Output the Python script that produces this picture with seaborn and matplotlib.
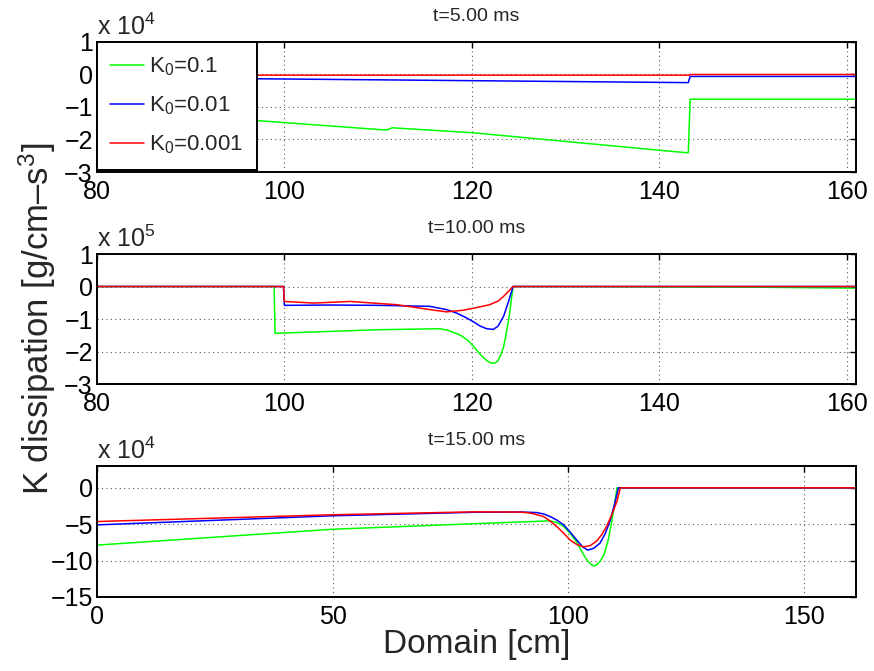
import matplotlib
matplotlib.use("Agg")
import matplotlib.pyplot as plt
import numpy as np
import pandas as pd
import seaborn as sns

# ─── Data ────────────────────────────────────────────────────────────────────

SERIES_LABELS = [r"K$_0$=0.1", r"K$_0$=0.01", r"K$_0$=0.001"]
SERIES_COLORS = ["#00ff00", "#0000ff", "#ff0000"]

# t = 5 ms  (values x 1e4)
T5_X_GREEN = [80, 96.7, 110.4, 111.0, 111.5, 120, 130, 140, 143.1, 143.3, 161]
T5_Y_GREEN = [-1.05, -1.41, -1.70, -1.70, -1.64, -1.79, -2.06, -2.33, -2.41, -0.76, -0.76]
T5_X_BLUE = [80, 96.7, 120, 143.1, 143.3, 161]
T5_Y_BLUE = [-0.10, -0.13, -0.19, -0.25, -0.06, -0.06]
T5_X_RED = [80, 143.2, 143.3, 161]
T5_Y_RED = [-0.02, -0.02, 0.0, 0.0]

# t = 10 ms  (values x 1e5)
T10_X_GREEN = [80, 98.9, 99.0, 100, 105, 110, 116.6, 117.5, 118.8, 119.6, 120.2, 120.7, 121.2,
               121.7, 122.1, 122.5, 122.8, 123.1, 123.4, 123.7, 124.0, 124.4, 150, 161]
T10_Y_GREEN = [0, 0, -1.44, -1.43, -1.38, -1.33, -1.30, -1.35, -1.50, -1.66, -1.85, -2.02, -2.18,
               -2.30, -2.36, -2.35, -2.28, -2.10, -1.85, -1.40, -0.90, 0, -0.02, -0.05]
T10_X_BLUE = [80, 99.9, 100.0, 105, 110, 115.5, 117.3, 118.4, 119.4, 120.2, 120.9, 121.6,
              122.3, 122.8, 123.4, 123.9, 124.4, 161]
T10_Y_BLUE = [0, 0, -0.58, -0.57, -0.58, -0.61, -0.71, -0.82, -0.96, -1.09, -1.22, -1.30,
              -1.32, -1.22, -0.91, -0.48, 0, 0]
T10_X_RED = [80, 99.9, 100.0, 103.1, 107.0, 112.0, 115.5, 117.3, 119.1, 120.5, 121.9, 122.8,
             123.4, 123.9, 124.4, 161]
T10_Y_RED = [0, 0, -0.46, -0.51, -0.46, -0.56, -0.71, -0.78, -0.73, -0.65, -0.56, -0.45,
             -0.30, -0.15, 0, 0]

# t = 15 ms  (values x 1e4)
T15_X_GREEN = [0, 50, 79.1, 96.1, 97.5, 99.0, 100.4, 101.8, 102.7, 103.5, 104.4, 105.3, 106.0,
               106.7, 107.5, 108.4, 109.2, 109.8, 110.3, 161]
T15_Y_GREEN = [-7.87, -5.69, -4.95, -4.54, -4.75, -5.30, -6.30, -7.50, -8.60, -9.50, -10.3,
               -10.74, -10.6, -10.1, -9.26, -7.30, -4.60, -2.2, 0, 0]
T15_X_BLUE = [0, 50, 80, 90, 93.3, 94.8, 96.1, 97.6, 99.0, 100.4, 101.8, 103.0, 104.1, 105.4,
              106.7, 107.8, 108.8, 109.8, 110.6, 161]
T15_Y_BLUE = [-5.09, -3.84, -3.36, -3.32, -3.40, -3.60, -3.94, -4.45, -5.10, -6.10, -7.20,
              -8.10, -8.56, -8.30, -7.60, -6.30, -4.60, -2.2, 0, 0]
T15_X_RED = [0, 50, 80, 89.7, 91.2, 92.5, 94.7, 96.1, 97.5, 99.0, 100.4, 101.8, 103.2, 104.6,
             106.0, 107.1, 108.1, 109.2, 110.3, 111.0, 161]
T15_Y_RED = [-4.63, -3.70, -3.30, -3.33, -3.42, -3.55, -3.94, -4.55, -5.30, -6.25, -7.20, -7.80,
             -8.10, -7.95, -7.30, -6.40, -5.30, -3.70, -1.85, 0, 0]

PANELS = [
    ("t=5.00 ms", "4", (80, 161), [80, 100, 120, 140, 160], (-3, 1), [-3, -2, -1, 0, 1],
     [(T5_X_GREEN, T5_Y_GREEN), (T5_X_BLUE, T5_Y_BLUE), (T5_X_RED, T5_Y_RED)]),
    ("t=10.00 ms", "5", (80, 161), [80, 100, 120, 140, 160], (-3, 1), [-3, -2, -1, 0, 1],
     [(T10_X_GREEN, T10_Y_GREEN), (T10_X_BLUE, T10_Y_BLUE), (T10_X_RED, T10_Y_RED)]),
    ("t=15.00 ms", "4", (0, 161), [0, 50, 100, 150], (-15, 3), [-15, -10, -5, 0],
     [(T15_X_GREEN, T15_Y_GREEN), (T15_X_BLUE, T15_Y_BLUE), (T15_X_RED, T15_Y_RED)]),
]


def _panel_frame(series):
    rows = []
    for label, (xs, ys) in zip(SERIES_LABELS, series):
        for x, y in zip(xs, ys):
            rows.append({"x": x, "y": y, "K0": label})
    return pd.DataFrame(rows)


# ─── Plot ────────────────────────────────────────────────────────────────────

sns.set_theme(style="white")
plt.rcParams["font.family"] = ["Liberation Sans", "DejaVu Sans"]
plt.rcParams["mathtext.fontset"] = "custom"
plt.rcParams["mathtext.rm"] = "Liberation Sans"
plt.rcParams["mathtext.it"] = "Liberation Sans"
plt.rcParams["mathtext.bf"] = "Liberation Sans:bold"

fig = plt.figure(figsize=(8.74, 6.71), dpi=100)
W, H = 874, 671
boxes = [(42, 172), (254, 384), (466, 597)]  # top/bottom pixel rows of each axes
left, right = 97, 856

axes = []
for (top, bot), (title, expo, xlim, xticks, ylim, yticks, series) in zip(boxes, PANELS):
    ax = fig.add_axes([left / W, 1 - bot / H, (right - left) / W, (bot - top) / H])
    df = _panel_frame(series)
    sns.lineplot(data=df, x="x", y="y", hue="K0", palette=SERIES_COLORS,
                 hue_order=SERIES_LABELS, estimator=None, sort=False,
                 linewidth=1.1, ax=ax, legend=(title == "t=5.00 ms"))
    ax.set_xlim(*xlim)
    ax.set_ylim(*ylim)
    ax.set_xticks(xticks)
    ax.set_yticks(yticks)
    ax.set_xlabel("")
    ax.set_ylabel("")
    ax.grid(True, linestyle=(0, (1, 3)), color="0.35", linewidth=0.8)
    ax.tick_params(direction="in", length=4, width=1, top=True, right=True,
                   labelsize=18, colors="black", pad=3)
    ax.tick_params(axis="x", pad=6)
    for sp in ax.spines.values():
        sp.set_color("black")
        sp.set_linewidth(1.4)
    ax.set_title(title, fontsize=14, pad=15)
    ax.text(0, 1.015, "x 10$^{" + expo + "}$", transform=ax.transAxes,
            ha="left", va="bottom", fontsize=18)
    axes.append(ax)

# legend in the top panel, MATLAB-like box
handles, labels = axes[0].get_legend_handles_labels()
leg = axes[0].legend(handles, labels, loc="upper left", bbox_to_anchor=(0, 1),
                     borderaxespad=0, fontsize=16, frameon=True, fancybox=False,
                     edgecolor="black", framealpha=1, handlelength=1.5,
                     handletextpad=0.25, labelspacing=0.75, borderpad=0.6)
leg.get_frame().set_linewidth(1.4)
for line in leg.get_lines():
    line.set_linewidth(1.1)

axes[2].set_xlabel("Domain [cm]", fontsize=24, labelpad=0)
fig.text(0.043, 0.525, "K dissipation [g/cm\u2013s$^3$]", rotation=90,
         fontsize=25, ha="center", va="center")

fig.savefig("out.png", dpi=100)
